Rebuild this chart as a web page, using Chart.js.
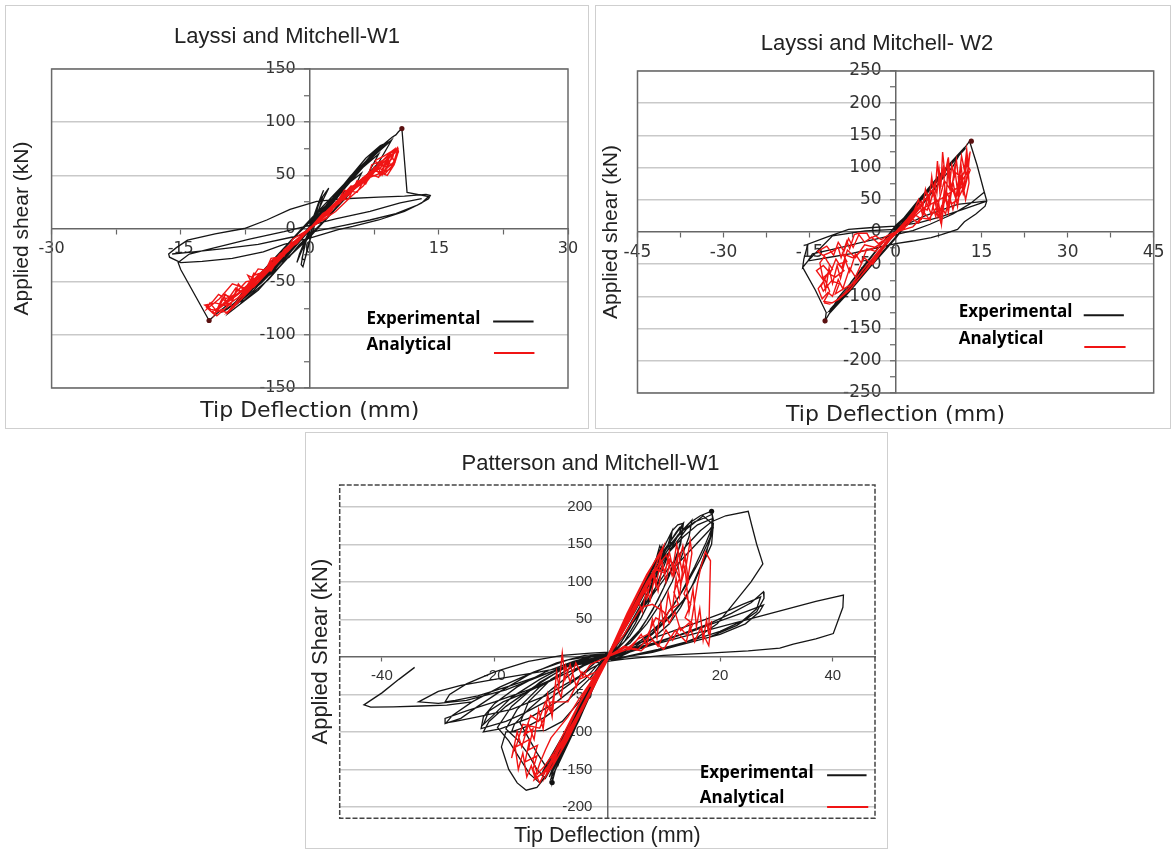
<!DOCTYPE html>
<html><head><meta charset="utf-8">
<script src="https://cdn.jsdelivr.net/npm/chart.js@4.4.1/dist/chart.umd.min.js"></script>
<style>
html,body{margin:0;padding:0;background:#fff;}
body{width:1172px;height:850px;position:relative;overflow:hidden;}
.panel{position:absolute;box-sizing:border-box;border:1px solid #cfcfcf;background:#fff;}
.panel canvas{position:absolute;left:0;top:0;}
</style></head><body>
<div class="panel" style="left:5px;top:5px;width:584px;height:424px"><canvas id="c1" width="582" height="421"></canvas></div>
<div class="panel" style="left:595px;top:5px;width:576px;height:424px"><canvas id="c2" width="574" height="421"></canvas></div>
<div class="panel" style="left:305px;top:432px;width:583px;height:417px"><canvas id="c3" width="580" height="414"></canvas></div>
<script>
// ---------------- DATA ----------------
const seriesLabels = ['Experimental', 'Analytical'];
const chartTitles = ['Layssi and Mitchell-W1', 'Layssi and Mitchell- W2', 'Patterson and Mitchell-W1'];
const xTitle = 'Tip Deflection (mm)';
const yTitles = ['Applied shear (kN)', 'Applied shear (kN)', 'Applied Shear (kN)'];

// Panel 1 ticks
const w1XTicks = [-30,-22.5,-15,-7.5,0,7.5,15,22.5,30];
const w1XLabels = [-30,-15,0,15,30];
const w1YTicks = [-150,-125,-100,-75,-50,-25,0,25,50,75,100,125,150];
const w1YLabels = [-150,-100,-50,0,50,100,150];
// Panel 2 ticks
const w2XTicks = [-45,-37.5,-30,-22.5,-15,-7.5,0,7.5,15,22.5,30,37.5,45];
const w2XLabels = [-45,-30,-15,0,15,30,45];
const w2YTicks = [-250,-225,-200,-175,-150,-125,-100,-75,-50,-25,0,25,50,75,100,125,150,175,200,225,250];
const w2YLabels = [-250,-200,-150,-100,-50,0,50,100,150,200,250];
// Panel 3 ticks
const p3XTicks = [-40,-20,0,20,40];
const p3XLabels = [-40,-20,20,40];
const p3YTicks = [-200,-150,-100,-50,0,50,100,150,200];
const p3YLabels = [-200,-150,-100,-50,50,100,150,200];

// Panel 1: Layssi and Mitchell-W1 (mm, kN)
const w1Experimental = [
 [0,0],[0.8,8],[1.5,15],[1.0,10],[0,0],[-0.8,-8],[-1.5,-15],[-1.0,-10],[0,0],
 [1.5,15],[2.5,26],[3.2,33],[2.6,27],[1,9],[-0.5,-5],[-1.5,-14],[-2.5,-24],[-3.2,-31],[-2.6,-26],[-1,-10],[0.2,2],
 [0.6,14],[1.2,28],[1.6,36],[1.1,26],[0.3,8],[-0.3,-8],[-0.7,-20],[-1.0,-34],[-0.8,-36],[-0.4,-24],[0,-12],[0.2,-2],[0.6,10],[1.0,22],[1.4,30],[0.8,18],[0,0],[-0.5,-14],[-0.9,-28],[-0.6,-30],[-0.2,-16],[0.3,-4],
 [1.5,30],[2.2,38],[1.6,28],[0.5,8],[-0.5,-10],[-1.2,-24],[-1.5,-32],[-1,-22],[0,-4],
 [0,2],[1.2,15],[2.4,27],[4,35],[3.4,23],[2,10],[0,-6],[-1.2,-15],[-2.4,-27],[-4,-35],[-3.4,-23],[-2,-10],[0,6],
 [2,18],[4,38],[5,47],[5.6,53],[5,48],[3,28],[0.5,4],[-2,-18],[-4,-38],[-5.5,-50],[-6.2,-55],[-5.6,-51],[-3.5,-32],[-1,-9],[1.5,14],
 [0,3],[1.8,21],[3.6,37],[6,52],[5.1,37],[3,19],[0,-7],[-1.8,-21],[-3.6,-37],[-6,-52],[-5.1,-37],[-3,-19],[0,7],
 [1,12],[3,32],[4.5,46],[5.2,50],[4.6,44],[2.5,22],[0,-1],[-2.5,-24],[-4.8,-44],[-5.6,-50],[-5,-46],[-2.8,-27],[0,0],
 [4,40],[6,58],[7,66],[7.6,72],[7,68],[4.5,44],[1.5,15],[-1,-10],[-4,-36],[-6.5,-58],[-8,-68],[-8.8,-73],[-8.3,-70],[-6,-52],[-2.5,-22],[0.5,5],
 [0,3],[2.4,26],[4.8,48],[8,70],[6.8,52],[4,28],[0,-8],[-2.4,-26],[-4.8,-48],[-8,-70],[-6.8,-52],[-4,-28],[0,8],
 [2.2,24],[4.8,50],[6.6,64],[7.2,68],[6.5,62],[4,38],[1,8],[-2,-20],[-5,-44],[-7.4,-62],[-8.2,-66],[-7.6,-63],[-5,-42],[-1.5,-13],[1.5,16],
 [3,30],[5.5,54],[7.5,72],[8.5,78],[9.3,82],[8.5,77],[6,56],[3,28],[0,2],[-3,-26],[-6,-52],[-8.5,-70],[-9.8,-76],[-10.3,-79],[-9.6,-76],[-7,-60],[-4,-36],[-1,-10],[2,20],
 [0,4],[3,31],[6,58],[9.5,83],[8,62],[5,36],[0,-8],[-3,-31],[-6,-58],[-9.5,-80],[-8,-62],[-5,-36],[0,8],
 [4,42],[6.5,66],[8.2,78],[8.8,80],[8.1,75],[5.5,52],[2,17],[-1.5,-14],[-5,-44],[-8,-66],[-9.4,-74],[-9.9,-77],[-9.2,-73],[-6.5,-54],[-3,-26],[0,1],
 [5,50],[7.5,72],[9,82],[9.6,86],[10.0,88],[10.3,91],[10.7,94],
 [11.0,64],[11.3,34],[12.5,32],[13.8,30],
 [13,24],[11,16],[8,8],[5,2],[3.3,-1],[0,-9],[-3,-15],[-5.4,-22],[-9,-28],[-12.5,-31],[-15,-32],[-16.3,-27],[-16.4,-24],
 [-15.5,-18],[-14.2,-11],[-11,-5],[-7.6,0],[-5,8],[-2.3,18],[0.8,25.5],[4,28],[8,29.5],[11,30.5],[13.5,32],[14,31],[13.8,28],
 [12.5,22],[10,14],[7,8],[4,3],[1,-2],[-2,-8],[-6,-15],[-10,-19],[-13.5,-22],[-16,-24],
 null,
 [-9.6,-72],[-10.8,-80],[-11.7,-86.5],[-15.0,-38.6],[-15.3,-32],[-14,-24],[-11,-18],[-7,-10],[-3,-3],[0,3],[3,9],[7,16],[10.5,24],[13,28]
];
const w1Analytical = [
 [0,0],[1,7],[2,15],[1.5,12],[0.5,3],[-0.5,-4],[-1.5,-12],[-2.5,-19],[-2,-16],[-0.5,-5],[1,8],[2.5,20],[3.5,27],[4.2,33],[3.5,29],[2,16],[0,-1],[-2,-16],[-3.5,-27],[-4.5,-35],[-4,-32],[-2.5,-20],[0,0],
 [2,14],[4,30],[5.5,42],[6.2,48],[5.8,45],[4,33],[1.5,12],[-1,-8],[-3.5,-28],[-5.5,-45],[-6.8,-52],[-6.2,-48],[-7.2,-44],[-6.5,-55],[-5,-42],[-2,-16],[1,8],
 [1.5,10],[3,22],[4.5,34],[5.2,38],[4.8,40],[3.2,26],[1,7],[-1.5,-12],[-3.8,-30],[-5.2,-40],[-6,-44],[-5.5,-46],[-4,-34],[-1.5,-12],[1,8],
 [3.5,26],[5.5,40],[7,52],[7.8,58],[8.5,62],[8.2,56],[8.8,54],[9.2,66],[8.6,60],[7,50],[4.5,34],[2,14],[-1,-8],[-4,-32],[-6.5,-50],[-8.5,-62],[-9.5,-68],[-10.5,-73],[-9.8,-70],[-8.8,-74],[-9.5,-78],[-8.2,-66],[-6,-50],[-3,-24],[0,1],
 [2,10],[3,25],[4.5,28],[5.5,45],[6.5,42],[7.5,58],[8.2,50],[9,64],[9.6,58],[10.2,74],[9,66],[8,48],[6.8,52],[5.5,34],[4,36],[2.5,16],[0,0],[-2,-10],[-3,-26],[-4.5,-28],[-5.5,-46],[-6.5,-42],[-7.5,-60],[-8.3,-52],[-9,-68],[-9.8,-62],[-10.8,-78],[-11.6,-70],[-12,-76],[-10.5,-66],[-9,-52],[-7.5,-56],[-6,-38],[-4.5,-40],[-3,-20],[0,0],
 [4,28],[8,58],[10,72],[8.5,62],[5,38],[2,14],[0,0],[-4,-30],[-8,-60],[-11,-78],[-9,-66],[-6,-44],[-3,-22],[0,0],
 [3,22],[5.5,40],[7.2,52],[8,56],[8.4,50],[8.9,58],[8.1,61],[6.5,48],[3.5,27],[0.5,3],[-2.5,-21],[-5.5,-44],[-7.8,-60],[-8.6,-56],[-9.3,-64],[-10,-62],[-9.6,-72],[-8.5,-66],[-6,-48],[-2.5,-20],[0,0],
 [3,24],[6,46],[8,60],[9.2,66],[9.8,72],[10.2,76],[10.3,72],[9.7,62],[9.0,57],[9.5,67],[10.0,74],[9.2,70],[7.5,56],[5,38],[2,15],[-1,-7],[-4,-30],[-7,-54],[-9,-66],[-10.5,-74],[-11.3,-78],[-10.8,-82],[-9.5,-73],[-11,-70],[-12.2,-72],[-11.5,-76],[-9.5,-79],[-8,-64],[-5,-40],[-2,-16],[0,0],
 [1.5,14],[3.5,24],[5,40],[6.5,44],[7.2,60],[8.5,64],[9.4,70],[9.9,62],[8.8,52],[7.6,54],[6.2,40],[4.8,30],[3,16],[0,0],[-1.5,-14],[-3.5,-24],[-5,-40],[-6.5,-44],[-7.2,-60],[-8.5,-58],[-9.2,-72],[-10.2,-66],[-11,-80],[-10,-70],[-8.8,-62],[-7.4,-50],[-6,-48],[-4.4,-30],[-2.6,-22],[0,0],
 [2,17],[4.5,36],[6.5,50],[7.4,52],[8,58],[7.6,64],[8.6,68],[9.4,72],[9.9,75],[9.6,66],[8.7,59],[8.3,52],[9.0,50],[9.8,60],[10.2,70],[9.4,56],[7,48],[4,30],[1,8],[-2,-15],[-5,-38],[-8,-60],[-9.8,-66],[-10.6,-62],[-11.2,-68],[-12,-74],[-11.2,-80],[-10.2,-76],[-9.6,-80],[-8.6,-72],[-6,-50],[-3,-25],[0,0]
];
const w1Peaks = [[10.7,94],[-11.7,-86.5]];

// Panel 2: Layssi and Mitchell- W2
const w2Experimental = [
 [0,0],[0.8,9],[1.6,18],[1.1,12],[0,0],[-0.8,-9],[-1.6,-17],[-1.1,-12],[0,0],
 [1.5,17],[3,33],[3.8,42],[3.2,36],[1.2,12],[-1,-10],[-2.5,-27],[-3.6,-38],[-3,-33],[-1,-11],[0.5,5],
 [2.5,28],[4.5,50],[5.5,60],[6.2,68],[5.5,62],[3,34],[0.5,4],[-2,-22],[-4.5,-48],[-6,-63],[-6.8,-72],[-6,-66],[-3.5,-38],[-0.5,-5],
 [2,24],[4,46],[6,66],[7.5,82],[8,86],[7.4,80],[5,56],[2,22],[-1,-12],[-4,-44],[-6.5,-70],[-7.8,-84],[-7.2,-80],[-4.5,-50],[-1.5,-16],[1,10],
 [0,5],[3,38],[6,70],[9,100],[7.8,78],[5,46],[0,-8],[-3,-38],[-6,-70],[-9,-100],[-7.8,-78],[-5,-46],[0,8],
 [2.5,27],[5,55],[7,77],[8.3,90],[9,98],[8.4,93],[6,67],[3,33],[0,1],[-3,-32],[-6,-64],[-8,-85],[-9.2,-97],[-8.6,-93],[-6,-66],[-2.5,-27],[1,10],
 [3.5,38],[6.5,72],[9,98],[10.4,112],[11,118],[10.3,112],[7.5,84],[4,44],[0.5,4],[-3,-34],[-6.5,-72],[-9,-98],[-10.4,-110],[-11,-116],[-10.3,-112],[-7.5,-82],[-4,-44],[-0.5,-4],
 [0,6],[4,50],[8,92],[11.5,126],[10,102],[6,60],[0,-10],[-4,-50],[-8,-92],[-11.5,-126],[-10,-102],[-6,-60],[0,10],
 [3,34],[6,68],[9,100],[11.5,124],[12.2,130],[11.6,124],[8.5,94],[4.5,50],[0,0],[-4,-44],[-8,-88],[-10.5,-112],[-11.5,-122],[-10.8,-118],[-7.5,-84],[-3,-34],[0,0],
 [4,44],[7,77],[9.5,104],[10.8,118],[11.8,128],[12.4,135],[12.9,141],
 [14.2,104],[15.4,64],[15.9,48],[15.6,40],[14,28],[12,16],[10.8,4],[8,-4],[6.2,-8.7],[3,-14],[0,-18],[-4,-26],[-8,-34],[-12,-40],[-15.3,-45],[-16.2,-55],
 [-16,-42],[-15.3,-19],[-12,-8],[-8.2,4],[-4,7],[0,9],[4,14],[8,24],[12,36],[15.9,48],
 null,
 [-9.2,-97],[-10.8,-115],[-12.3,-138],[-12.1,-125],[-14,-90],[-16.2,-55],
 null,
 [15.5,62],[13,44],[10,28],[6,12],[3,2],[0,-4],[-5,-14],[-10,-25],[-14.5,-34],[-15.3,-45],[-13,-24],[-11,-6],[-5.3,1.6],[0,4],[5.1,25],[10.8,43],[15.7,48]
];
const w2Analytical = [
 [0,0],[1,9],[2,18],[1.4,12],[0,0],[-1,-9],[-2,-18],[-1.5,-13],[0,0],
 [2,20],[3.5,36],[4.5,48],[5,30],[5.6,58],[6,42],[6.8,75],[7.2,60],[7.6,96],[7.9,70],[8.2,124],[8.6,90],[9,108],[9.4,72],[9.8,104],[10.2,86],[10.6,112],[11,80],[11.5,118],[12,96],[12.4,128],[12.7,100],[12.9,122],[12.5,84],[11.8,60],[11.2,92],[10.5,52],[9.8,70],[9.2,40],[8.6,58],[8,12],[7.5,46],[7,24],[6.5,40],[6,18],[5,30],[4,14],[3,20],[1.5,6],[0,-2],
 [-1.5,-14],[-3,-30],[-4.5,-46],[-6,-62],[-7.5,-80],[-9,-96],[-10,-104],[-11,-110],[-12.5,-108],[-11.5,-92],[-12.5,-70],[-11,-58],[-12,-44],[-12.5,-36],[-11,-30],[-10,-24],[-9.5,-40],[-8.5,-14],[-8,-26],[-7.2,-4],[-6.5,-2],[-5,-2],[-4.5,-10],[-3.5,-6],[-2.5,-12],[-1.5,-6],[0,0],
 [1,8],[3,28],[4,50],[4.6,30],[5.2,66],[5.8,44],[6.3,86],[6.8,50],[7.3,110],[7.7,64],[8.3,98],[8.8,48],[9.2,116],[9.7,62],[10.3,100],[10.9,56],[11.4,104],[11.9,66],[12.5,118],[12.8,76],[12.2,50],[11.5,86],[10.8,40],[10,78],[9.2,30],[8.5,64],[7.8,18],[7,54],[6.2,28],[5.4,46],[4.5,20],[3.5,26],[2,10],[0,0],
 [-2,-14],[-3.5,-30],[-5,-26],[-6,-48],[-7,-34],[-8,-62],[-8.8,-44],[-9.6,-72],[-10.2,-52],[-11,-80],[-11.6,-56],[-12.2,-90],[-12.8,-66],[-13.2,-48],[-12.4,-38],[-13.6,-30],[-12,-22],[-10.8,-36],[-10,-16],[-9,-30],[-8.2,-10],[-7.4,-24],[-6.4,-4],[-5.4,-16],[-4.2,-8],[-3,-18],[-1.5,-10],[0,0],
 [2,16],[4,38],[5.5,54],[6.5,66],[7.4,23],[8,40],[8.7,28],[9.4,55],[10,35],[10.8,62],[11.5,70],[12.3,78],[12.8,110],[13,125],[12.6,95],[11,70],[8,52],[5,38],[2,14],[-1,-12],[-3,-36],[-5,-58],[-7,-78],[-9,-88],[-10.5,-96],[-9.8,-80],[-11.2,-76],[-12.6,-92],[-13,-84],[-11.8,-64],[-10.5,-70],[-9,-60],[-10,-50],[-8.5,-46],[-9.2,-34],[-7.5,-40],[-6,-30],[-4,-26],[-2,-14],[0,0],
 [3,24],[4.5,40],[5.5,34],[6.5,58],[7.5,46],[8.5,80],[9.5,66],[10.5,92],[11.5,84],[12.5,104],[13,96],[12,72],[10.8,50],[9.8,44],[9,60],[8,32],[7,36],[5.8,20],[4.5,22],[3,8],[0,0],
 [-2,-24],[-4,-50],[-5.5,-40],[-7,-70],[-8,-56],[-9.2,-88],[-10,-74],[-11,-100],[-11.8,-94],[-12.8,-104],[-13.5,-88],[-12.5,-76],[-13.8,-60],[-12.6,-52],[-11.4,-64],[-10.4,-42],[-9.4,-56],[-8.4,-28],[-7,-40],[-5.4,-20],[-3.5,-24],[0,0],
 [-2,-20],[-4,-44],[-6,-68],[-8,-90],[-10,-105],[-11.5,-112],[-12.5,-110]
];
const w2Peaks = [[13.2,141],[-12.3,-138]];

// Panel 3: Patterson and Mitchell-W1
const p3Experimental = [
 [0,0],[1,14],[2,28],[1.4,20],[0,0],[-1,-14],[-2,-28],[-1.4,-20],[0,0],
 [2,28],[3.5,50],[4.5,64],[3.8,56],[1.5,20],[-0.5,-6],[-2.5,-36],[-4,-56],[-3.3,-50],[-1,-14],[0.5,6],
 [3,42],[5.5,80],[7,100],[7.8,112],[7,104],[4.5,66],[1.5,20],[-1,-12],[-3.5,-50],[-5.5,-80],[-6.5,-96],[-5.8,-90],[-3.5,-54],[-1,-14],
 [2,30],[4.5,68],[7,104],[8.5,126],[9.2,140],[9.6,146],[9.2,128],[8,100],[6,66],[4,38],[2,14],[0,0],
 [3,45],[6,92],[8,120],[9.6,146],[9.2,120],[8,95],[6.5,70],[5,45],[3,20],[0,0],
 [-1.5,-24],[-3.5,-56],[-5.5,-88],[-7,-112],[-8.2,-132],[-8.8,-146],[-8.4,-132],[-7.2,-110],[-5,-74],[-2.5,-36],[0,0],
 [-3,-50],[-6,-100],[-8.5,-140],[-10,-162],[-8.5,-120],[-6,-84],[-3,-40],[0,0],
 [1.5,22],[4,58],[6.5,96],[8.5,126],[9.3,148],[9.8,140],[10.8,150],[11.5,168],[12.5,176],[13.5,178],[12.8,165],[11,140],[8.5,104],[6,70],[3,30],[0,-2],[-2.5,-38],[-5,-76],[-7,-106],[-8.3,-126],[-9.5,-148],[-10.3,-160],[-9.8,-150],[-8,-124],[-5.5,-84],[-3,-44],[-0.5,-6],
 [3.5,50],[7,104],[9.5,138],[11.5,168],[11,140],[9.5,110],[8,82],[6,52],[4,28],[1.5,8],[0,0],
 [3,40],[6,86],[9,124],[11,152],[12.2,166],[12.8,172],[13.2,160],[12.4,136],[11,108],[9,76],[7,50],[5,28],[2.5,10],[0,-2],
 [4,60],[8,116],[11,152],[13.5,178],[13,150],[11.5,120],[10,92],[8,62],[6,38],[3,14],[0,0],
 [-2.5,-32],[-5,-66],[-7.5,-100],[-9.5,-126],[-11,-146],[-11.8,-158],[-11,-150],[-9.2,-126],[-7,-94],[-4,-52],[-1,-10],[0,0],
 [-2,-32],[-4,-64],[-6,-96],[-8,-128],[-9.5,-150],[-11,-145],[-12.5,-128],[-14,-108],[-15.5,-88],[-14,-60],[-10,-30],[-5,-8],[0,0],
 [2,24],[5,62],[8,104],[10.5,140],[12.5,162],[14.5,178],[16.5,188],[18.5,194],[18.8,183],[18.3,160],[16.5,130],[14,96],[11.5,66],[9,42],[6,22],[3,8],[0,-1],[-2,-28],[-4.5,-66],[-7,-106],[-8.5,-132],[-9.8,-152],[-9.8,-167.5],[-9.2,-150],[-7.5,-122],[-5,-84],[-2.5,-40],[0,0],
 [4.5,64],[9,124],[12,156],[15,182],[14.5,160],[13,130],[11.5,100],[9.5,72],[7,44],[4,18],[0,0],
 [4,56],[7.5,104],[10.5,144],[13,166],[15.5,180],[17.5,186],[18.6,190],[18.8,172],[18,150],[16.5,120],[15,94],[13,66],[11,44],[8,24],[4,8],[0,-2],
 [-2.5,-38],[-5,-78],[-7.5,-115],[-9.5,-142],[-11,-162],[-12.5,-150],[-14,-130],[-16,-110],[-18,-96],[-16,-70],[-12,-40],[-6,-12],[0,0],
 [5,70],[10,130],[14,170],[17,188],[18.8,176],[17.5,152],[15.5,120],[13,84],[10.5,56],[8,32],[4,12],[0,0],
 [5,66],[10,132],[13.5,160],[16,176],[18.6,184],[18.5,168],[17.5,136],[15.5,100],[13.5,76],[11,54],[8,32],[4,12],[0,0],
 [-3,-44],[-6,-90],[-8.5,-126],[-10.5,-155],[-12,-168],[-13.8,-156],[-15.5,-136],[-17.5,-112],[-19.5,-94],[-17,-66],[-12,-34],[-6,-8],[0,0],
 [2.5,24],[5,50],[8,86],[11,120],[14,148],[16.5,168],[18.5,180],[21,188],[25,194],[25.6,176],[26.5,150],[27.6,124],[25.5,100],[22.5,72],[19.5,44],[16,26],[12,14],[8,6],[4,1],[0,-4],
 [3,30],[7,72],[10.5,108],[14,136],[16.5,156],[18,168],[18.8,176],[18.5,150],[16.5,116],[14,80],[11,52],[8,30],[5,14],[2,4],[0,-4],
 [-3,-16],[-7,-38],[-11,-60],[-15,-76],[-18,-86],[-22.4,-95.5],[-22,-80],[-20,-62],[-16,-40],[-11,-20],[-6,-6],[-2,2],[0,3],
 [-3,-28],[-7,-58],[-11,-80],[-14,-92],[-17,-100],[-16.5,-90],[-14,-70],[-10,-44],[-6,-20],[-2,-2],[0,2],
 [-3,-8],[-8,-24],[-14,-44],[-20,-60],[-25,-72],[-28.8,-82],[-28.8,-89],[-26,-82],[-23,-66],[-19,-46],[-14,-24],[-9,-8],[-4,2],[0,4],
 [-4,-30],[-9,-60],[-14,-82],[-19,-96],[-22,-100],[-21,-86],[-18,-66],[-13,-40],[-8,-16],[-3,0],[0,2],
 [-4,-6],[-10,-20],[-17,-38],[-23,-52],[-27,-58],[-28.8,-60],[-28,-50],[-25,-36],[-20,-20],[-14,-6],[-8,2],[-3,5],[0,6],
 [-5,-26],[-11,-52],[-17,-70],[-23,-80],[-27,-86],[-28.6,-88],[-27.5,-78],[-24,-60],[-19,-40],[-13,-20],[-7,-4],[0,4],
 [-4,-10],[-9,-28],[-14,-46],[-18.5,-60],[-21,-72],[-22,-90],[-20,-76],[-17,-54],[-12,-30],[-7,-10],[-2,2],[0,3],
 [-2,-26],[-5,-60],[-8,-86],[-11,-98],[-15,-100],[-18,-100],[-18.8,-120],[-17.5,-150],[-16,-168],[-14.4,-177.7],[-12.5,-174],[-11,-160],[-9,-130],[-6.5,-90],[-4,-50],[-1.5,-14],[0,0],
 [3,8],[8,18],[13,30],[18,44],[22,58],[25.5,72],[27.7,86.7],[27.8,78],[26.5,60],[23,42],[18,26],[12,14],[6,4],[1,-4],
 [5,10],[10,22],[15,34],[20,48],[24.5,60],[27.7,69],[27,60],[24.5,44],[20,30],[14,18],[8,8],[2,-2],
 [4,14],[10,30],[16,46],[21,60],[24,70],[26,76],[27.2,80],[26.5,64],[24,48],[20,34],[15,22],[9,10],[3,0],[0,-3],
 [8,16],[15,30],[22,44],[28,56],[33,66],[37,74],[41.9,82.3],[41.8,66],[40.1,31],[37,24],[33,17],[30.6,11.6],[25,8],[18,5],[10,2],[3,-3],[0,-6],
 [-5,-10],[-12,-20],[-20,-30],[-26,-38],[-30,-46],[-32,-54],[-33.5,-60],[-30,-62],[-25,-58],[-18,-44],[-10,-20],[-4,-4],[0,2],
 null,
 [-34.2,-14],[-37,-30],[-40,-48],[-43.2,-64],[-42,-67],[-38,-66.7],[-33,-65.5],[-28.5,-64.4],[-24,-60]
];
const p3Analytical = [
 [0,0],[1.5,20],[3,42],[2,28],[0,0],[-1.5,-20],[-3,-40],[-2,-28],[0,0],
 [3,40],[5,70],[6.5,92],[7,78],[8,112],[8.6,95],[9.5,128],[10.2,110],[11,140],[11.6,118],[12.3,150],[12.8,130],[13.4,148],[14,122],[14.7,155],[15,138],[14.2,100],[13.5,125],[12.8,80],[12.2,105],[11.5,60],[10.8,85],[10,40],[9.5,70],[8.8,25],[8,50],[7,15],[6,30],[4,10],[2,8],[0,0],
 [2,24],[4,52],[5.5,74],[6.2,60],[7,92],[7.6,76],[8.4,108],[9,88],[9.8,124],[10.4,100],[11.2,132],[11.8,108],[12.6,140],[13.2,116],[13.8,134],[14.4,100],[13.6,84],[14.8,70],[13.8,52],[15.2,44],[14.2,28],[12.8,40],[11.6,22],[10.4,36],[9,14],[7.5,28],[5.5,10],[3,14],[0,0],
 [4,62],[8,122],[10,148],[9,120],[6,80],[3,36],[0,0],[-3,-46],[-6,-92],[-9,-136],[-11,-160],[-9.5,-128],[-6.5,-84],[-3.5,-40],[0,0],
 [3.5,58],[7,110],[9.5,140],[7.5,100],[4.5,56],[1,10],[-3.5,-56],[-7,-110],[-10,-150],[-8,-112],[-5,-64],[-1.5,-16],[0,0],
 [4,50],[7,96],[9,122],[10.5,136],[11.5,108],[12.4,132],[13,96],[13.8,118],[14.5,60],[15.2,90],[15.8,40],[16.4,64],[17,22],[17.6,49],[18,30],[18.3,128],[17.4,140],[16.6,120],[16,98],[15,50],[14,20],[12,35],[10,10],[8,22],[6,8],[3,12],[0,0],
 [2.5,36],[5,72],[7,100],[8.5,118],[10,112],[11,130],[12,120],[12.8,104],[11.8,86],[12.6,70],[11,62],[10,46],[8.6,52],[7.2,30],[5.5,24],[3.5,10],[0,0],
 [-2,-30],[-4,-62],[-6,-90],[-8,-118],[-10,-140],[-11.5,-155],[-12.8,-162],[-13.5,-145],[-14.3,-160],[-15,-128],[-15.8,-150],[-16.4,-118],[-17,-135],[-16,-100],[-15.2,-120],[-14,-90],[-13,-110],[-12.2,-70],[-11.4,-96],[-10.6,-50],[-9.8,-80],[-9,-20],[-8.6,-40],[-8,5],[-7.5,-30],[-6.6,-10],[-5.5,-40],[-4.5,-20],[-3,-30],[-1.5,-18],[0,0],
 [-1.5,-22],[-3.5,-52],[-5.5,-80],[-7.5,-106],[-9.5,-128],[-11.2,-146],[-12.4,-156],[-13.2,-138],[-12.4,-118],[-14,-124],[-13.2,-96],[-14.8,-104],[-13.6,-78],[-12.2,-86],[-11,-60],[-10,-74],[-9.2,-36],[-8.2,-54],[-7.4,-12],[-6.6,-34],[-5.6,-8],[-4.4,-26],[-3,-10],[0,0],
 [-3,-44],[-6,-88],[-8.5,-120],[-10.5,-145],[-12,-168],[-13.2,-150],[-12.5,-132],[-14.6,-140],[-13.8,-110],[-16.2,-120],[-15,-90],[-12,-95],[-10,-60],[-7,-60],[-5,-30],[-2,-20],[0,0],
 [-2,-34],[-4.5,-72],[-7,-104],[-9,-130],[-10.5,-150],[-12,-158],[-13,-164],[-12,-142],[-11,-124],[-10,-108],[-8.5,-94],[-7,-80],[-5,-56],[-3,-34],[0,0],
 [3,30],[6,66],[8,70],[10,60],[11,45],[12,60],[13,35],[14.5,45],[15.5,20],[16.5,38],[18,15],[18.5,48]
];
const p3Peaks = [[18.5,194],[-9.8,-167.5]];

// ---------------- HELPERS ----------------
const toPts = arr => arr.map(p => p ? {x: p[0], y: p[1]} : {x: null, y: null});

const framePlugin = {
  id: 'frame',
  beforeDatasetsDraw(chart, args, opts) {
    const {ctx, chartArea: a} = chart;
    ctx.save();
    ctx.strokeStyle = opts.color; ctx.lineWidth = opts.width;
    ctx.setLineDash(opts.dash || []);
    ctx.strokeRect(a.left, a.top, a.right - a.left, a.bottom - a.top);
    ctx.restore();
  }
};
const lineLegendPlugin = {
  id: 'lineLegend',
  afterDraw(chart, args, opts) {
    const {ctx, scales} = chart;
    const sx = scales.x, sy = scales.y;
    ctx.save();
    ctx.font = opts.font; ctx.textBaseline = 'middle'; ctx.textAlign = 'left';
    opts.items.forEach(it => {
      const ds = chart.data.datasets[it.dataset];
      ctx.fillStyle = '#000';
      ctx.fillText(ds.label, sx.getPixelForValue(it.tx), sy.getPixelForValue(it.ty));
      ctx.strokeStyle = ds.borderColor; ctx.lineWidth = 2;
      ctx.beginPath();
      ctx.moveTo(sx.getPixelForValue(it.x1), sy.getPixelForValue(it.ly));
      ctx.lineTo(sx.getPixelForValue(it.x2), sy.getPixelForValue(it.ly));
      ctx.stroke();
    });
    ctx.restore();
  }
};

const baseLabelItems = Chart.Scale.prototype._computeLabelItems;

function makeChart(id, c) {
  const datasets = [
    {label: seriesLabels[0], data: toPts(c.exp), borderColor: '#161616', borderWidth: 1.3, showLine: true, pointRadius: 0, spanGaps: false, order: 2, xAxisID: 'x', yAxisID: 'y'},
    {label: seriesLabels[1], data: toPts(c.ana), borderColor: '#f01414', borderWidth: 1.4, showLine: true, pointRadius: 0, spanGaps: false, order: 1, xAxisID: 'x', yAxisID: 'y'},
    {label: 'peak', data: toPts(c.peaks), showLine: false, pointRadius: 2.6, pointBackgroundColor: c.dotColor, pointBorderWidth: 0, order: 0, xAxisID: 'x', yAxisID: 'y'}
  ];
  const yShift = c.tl + c.yTickPad;
  return new Chart(document.getElementById(id), {
    type: 'scatter',
    data: {datasets},
    plugins: [framePlugin, lineLegendPlugin],
    options: {
      responsive: false, animation: false, devicePixelRatio: 1,
      layout: {padding: {left: 0, top: 0, right: c.padRight, bottom: 0}},
      plugins: {
        legend: {display: false}, tooltip: {enabled: false},
        title: {display: true, text: c.title, color: '#222', font: {family: 'Liberation Sans, Arial', size: 22, weight: 'normal', lineHeight: 1.2}, padding: c.titlePad},
        frame: c.frame,
        lineLegend: {font: 'bold 17px "Open Sans"', items: c.legend}
      },
      scales: {
        x: {
          type: 'linear', axis: 'x', min: c.xMin, max: c.xMax, position: {y: 0},
          afterBuildTicks: ax => { ax.ticks = c.xTicks.map(v => ({value: v})); },
          afterFit: s => { s.height = 0; },
          ticks: {autoSkip: false, maxRotation: 0, padding: c.xTickPad, color: '#333', font: c.tickFont,
                  callback: v => c.xLabels.includes(v) ? String(v) : ''},
          grid: {drawOnChartArea: false, tickLength: c.tl, tickColor: '#666', tickWidth: 1.2},
          border: {color: '#666', width: 1.5}
        },
        y: {
          type: 'linear', axis: 'y', min: c.yMin, max: c.yMax, position: {x: 0},
          afterBuildTicks: ax => { ax.ticks = c.yTicks.map(v => ({value: v})); },
          afterFit: s => {
            s.width = 0;
            s._computeLabelItems = function (ca) {
              const items = baseLabelItems.call(this, ca);
              items.forEach(it => { it.options.translation[0] -= yShift; });
              return items;
            };
          },
          ticks: {autoSkip: false, padding: c.yTickPad, color: '#333', font: c.tickFont,
                  callback: v => c.yLabels.includes(v) ? String(v) : ''},
          grid: {
            drawOnChartArea: true, lineWidth: 1.5, tickLength: c.tl, tickColor: c.yTickColor, tickWidth: 1.2,
            color: ctx => (ctx.tick && ctx.tick.value !== 0 && c.yLabels.includes(ctx.tick.value)) ? '#c9c9c9' : 'rgba(0,0,0,0)'
          },
          border: {color: '#666', width: 1.5}
        },
        xt: {
          type: 'linear', axis: 'x', position: 'bottom', min: 0, max: 1, display: true,
          ticks: {display: false}, grid: {display: false, drawTicks: false}, border: {display: false},
          title: {display: true, text: xTitle, color: '#222', font: c.xTitleFont, padding: c.xTitlePad}
        },
        yt: {
          type: 'linear', axis: 'y', position: 'left', min: 0, max: 1, display: true,
          ticks: {display: false}, grid: {display: false, drawTicks: false}, border: {display: false},
          title: {display: true, text: c.yTitle, color: '#222', font: c.yTitleFont, padding: c.yTitlePad}
        }
      }
    }
  });
}

makeChart('c1', {
  exp: w1Experimental, ana: w1Analytical, peaks: w1Peaks, dotColor: '#5a1010',
  title: chartTitles[0], titlePad: {top: 17.6, bottom: 19},
  xMin: -30, xMax: 30, yMin: -150, yMax: 150,
  xTicks: w1XTicks, xLabels: w1XLabels, yTicks: w1YTicks, yLabels: w1YLabels,
  tickFont: {family: 'DejaVu Sans', size: 16}, tl: 5, xTickPad: 6, yTickPad: 9, yTickColor: '#666',
  xTitleFont: {family: 'DejaVu Sans', size: 22, lineHeight: 1}, xTitlePad: {top: 12.7, bottom: 4.3},
  yTitle: yTitles[0], yTitleFont: {family: 'Liberation Sans, Arial', size: 21, lineHeight: 1.2}, yTitlePad: {top: 3.6, bottom: 16.8},
  padRight: 20,
  frame: {color: '#6a6a6a', width: 1.5},
  legend: [
    {dataset: 0, tx: 6.6, ty: -85.6, x1: 21.3, x2: 26.0, ly: -87.5},
    {dataset: 1, tx: 6.6, ty: -109.8, x1: 21.4, x2: 26.1, ly: -117}
  ]
});

makeChart('c2', {
  exp: w2Experimental, ana: w2Analytical, peaks: w2Peaks, dotColor: '#5a1010',
  title: chartTitles[1], titlePad: {top: 25, bottom: 13.6},
  xMin: -45, xMax: 45, yMin: -250, yMax: 250,
  xTicks: w2XTicks, xLabels: w2XLabels, yTicks: w2YTicks, yLabels: w2YLabels,
  tickFont: {family: 'DejaVu Sans', size: 17}, tl: 5, xTickPad: 5.5, yTickPad: 9, yTickColor: '#666',
  xTitleFont: {family: 'DejaVu Sans', size: 22, lineHeight: 1}, xTitlePad: {top: 11, bottom: 1},
  yTitle: yTitles[1], yTitleFont: {family: 'Liberation Sans, Arial', size: 21, lineHeight: 1.2}, yTitlePad: {top: 2.7, bottom: 13.6},
  padRight: 12,
  frame: {color: '#6a6a6a', width: 1.5},
  legend: [
    {dataset: 0, tx: 11.0, ty: -124.7, x1: 32.8, x2: 39.8, ly: -129.3},
    {dataset: 1, tx: 11.0, ty: -166.6, x1: 32.9, x2: 40.1, ly: -178.6}
  ]
});

makeChart('c3', {
  exp: p3Experimental, ana: p3Analytical, peaks: p3Peaks, dotColor: '#111',
  title: chartTitles[2], titlePad: {top: 17.6, bottom: 8},
  xMin: -47.5, xMax: 47.5, yMin: -215, yMax: 229,
  xTicks: p3XTicks, xLabels: p3XLabels, yTicks: p3YTicks, yLabels: p3YLabels,
  tickFont: {family: 'Liberation Sans, Arial', size: 15}, tl: 4, xTickPad: 6, yTickPad: 11, yTickColor: 'rgba(0,0,0,0)',
  xTitleFont: {family: 'Liberation Sans, Arial', size: 21.5, lineHeight: 1}, xTitlePad: {top: 7.3, bottom: 0},
  yTitle: yTitles[2], yTitleFont: {family: 'Liberation Sans, Arial', size: 22, lineHeight: 1.2}, yTitlePad: {top: 1.6, bottom: 5.7},
  padRight: 11,
  frame: {color: '#444', width: 1.5, dash: [5, 2]},
  legend: [
    {dataset: 0, tx: 16.4, ty: -154.7, x1: 39, x2: 46, ly: -157.7},
    {dataset: 1, tx: 16.4, ty: -188.4, x1: 39, x2: 46.3, ly: -200}
  ]
});
</script>
</body></html>
